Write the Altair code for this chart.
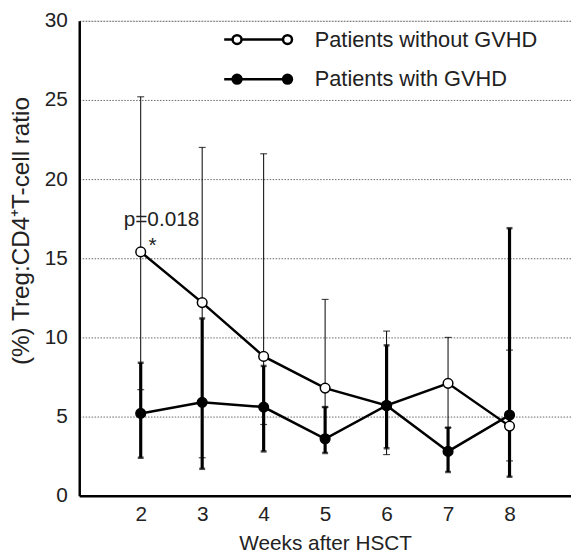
import altair as alt
import pandas as pd

weeks = [2, 3, 4, 5, 6, 7, 8]
series = ["Patients without GVHD", "Patients with GVHD"]

without_mean = [15.4, 12.2, 8.8, 6.8, 5.7, 7.1, 4.4]
without_low = [6.7, 2.4, 4.5, 5.6, 2.6, 4.3, 2.2]
without_high = [25.2, 22.0, 21.6, 12.4, 10.4, 10.0, 9.2]

with_mean = [5.2, 5.9, 5.6, 3.6, 5.7, 2.8, 5.1]
with_low = [2.4, 1.7, 2.8, 2.7, 3.0, 1.5, 1.2]
with_high = [8.4, 11.2, 8.2, 5.6, 9.5, 4.3, 16.9]

y_ticks = [0, 5, 10, 15, 20, 25, 30]
annotation_week = [2]
annotation_value = [15.4]

FONT = "Liberation Sans"

rows = []
for s, m, lo, hi in [(series[0], without_mean, without_low, without_high),
                     (series[1], with_mean, with_low, with_high)]:
    for w, mv, l, h in zip(weeks, m, lo, hi):
        rows.append({"week": w, "series": s, "mean": mv, "low": l, "high": h})
df = pd.DataFrame(rows)

caps = pd.concat([
    df.assign(cap=df["low"]),
    df.assign(cap=df["high"]),
])

ann = pd.DataFrame({"week": annotation_week, "value": annotation_value})

x_scale = alt.Scale(domain=[1, 9], nice=False, zero=False)
y_scale = alt.Scale(domain=[0, 30], nice=False)

x_axis = alt.Axis(values=weeks, format="d", title="Weeks after HSCT", grid=False, ticks=False,
                  domainColor="black", domainWidth=2.5, labelFontSize=21,
                  labelPadding=8, labelFont=FONT, labelColor="#222",
                  titleFont=FONT, titleFontSize=21, titleFontWeight="normal",
                  titleColor="#222", titleY=48, titleBaseline="middle")
y_axis = alt.Axis(values=y_ticks, title="(%) Treg:CD4⁺T-cell ratio", grid=True,
                  gridColor="#666", gridDash=[1.5, 1.5], gridWidth=1,
                  ticks=False, domainColor="black", domainWidth=2.5,
                  labelFontSize=21, labelPadding=12, labelFont=FONT, labelColor="#222",
                  titleFont=FONT, titleFontSize=24.5, titleFontWeight="normal",
                  titleColor="#222", titleX=-58, titleY=212, titleAlign="center",
                  titleBaseline="middle")

base = alt.Chart(df)

thin = base.transform_filter(alt.datum.series == series[0]).mark_rule(
    color="black", strokeWidth=1).encode(
    x=alt.X("week:Q", scale=x_scale, axis=x_axis),
    y=alt.Y("low:Q", scale=y_scale, axis=y_axis),
    y2="high:Q",
)
thick = base.transform_filter(alt.datum.series == series[1]).mark_rule(
    color="black", strokeWidth=3.2).encode(
    x=alt.X("week:Q", scale=x_scale),
    y=alt.Y("low:Q", scale=y_scale),
    y2="high:Q",
)

cap_thin = alt.Chart(caps).transform_filter(alt.datum.series == series[0]).mark_tick(
    orient="horizontal", color="black", size=7, thickness=1.2).encode(
    x=alt.X("week:Q", scale=x_scale),
    y=alt.Y("cap:Q", scale=y_scale),
)
cap_thick = alt.Chart(caps).transform_filter(alt.datum.series == series[1]).mark_tick(
    orient="horizontal", color="black", size=6, thickness=2.5).encode(
    x=alt.X("week:Q", scale=x_scale),
    y=alt.Y("cap:Q", scale=y_scale),
)

lines = base.mark_line(color="black", strokeWidth=2.5).encode(
    x=alt.X("week:Q", scale=x_scale),
    y=alt.Y("mean:Q", scale=y_scale),
    detail="series:N",
)

legend_path = ("M-6.9,0L-5.2,0M-3.4,0L5.0,0M6.8,0L6.9,0"
               "M-3.4,0A0.9,0.9,0,1,1,-5.2,0A0.9,0.9,0,1,1,-3.4,0Z"
               "M6.8,0A0.9,0.9,0,1,1,5.0,0A0.9,0.9,0,1,1,6.8,0Z")

points = base.mark_point(filled=True, stroke="black", strokeWidth=1.5, opacity=1,
                         size=95).encode(
    x=alt.X("week:Q", scale=x_scale),
    y=alt.Y("mean:Q", scale=y_scale),
    fill=alt.Fill("series:N", scale=alt.Scale(domain=series, range=["white", "black"]),
                  legend=alt.Legend(title=None, orient="none", legendX=170, legendY=8,
                                    symbolType=legend_path, symbolSize=100,
                                    symbolStrokeColor="black", symbolStrokeWidth=2.5,
                                    labelFontSize=22, labelFont=FONT, labelColor="#222",
                                    labelOffset=46, labelLimit=400, rowPadding=18,
                                    padding=0, symbolOpacity=1)),
)

p_text = alt.Chart(ann).mark_text(text="p=0.018", fontSize=21, font=FONT, color="#222",
                                  dx=21, dy=-32, baseline="middle").encode(
    x=alt.X("week:Q", scale=x_scale),
    y=alt.Y("value:Q", scale=y_scale),
)
star = alt.Chart(ann).mark_text(text="*", fontSize=21, font=FONT, color="#222",
                                dx=12, dy=-6, baseline="middle").encode(
    x=alt.X("week:Q", scale=x_scale),
    y=alt.Y("value:Q", scale=y_scale),
)

chart = alt.layer(thin, thick, cap_thin, cap_thick, lines, points, p_text, star).properties(
    width=497, height=480,
    autosize=alt.AutoSizeParams(type="none"),
    padding={"left": 72, "top": 10, "right": 0, "bottom": 60},
).configure_view(stroke=None).configure(background="white")

chart.save("out.html", embed_options={"renderer": "svg", "actions": False})
